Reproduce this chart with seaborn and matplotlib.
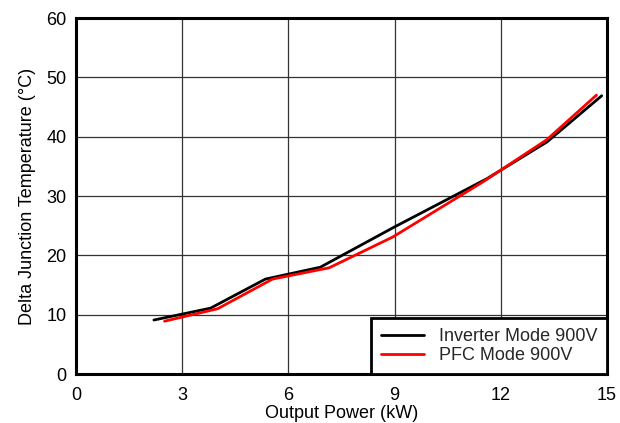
import matplotlib
matplotlib.use("Agg")
import matplotlib.pyplot as plt
import seaborn as sns
import pandas as pd

# Inverter mode operating points
inv_power = [2.2, 3.8, 5.35, 6.9, 9.0, 11.6, 13.3, 14.85]
inv_temp = [9.1, 11.1, 16.0, 18.0, 24.8, 32.9, 39.1, 46.9]

# PFC mode operating points
pfc_power = [2.5, 4.0, 5.55, 7.15, 8.95, 11.5, 13.3, 14.7]
pfc_temp = [8.9, 11.0, 16.0, 17.9, 23.1, 32.4, 39.5, 47.0]

series_names = ["Inverter Mode 900V", "PFC Mode 900V"]
x_ticks = [0, 3, 6, 9, 12, 15]
y_ticks = [0, 10, 20, 30, 40, 50, 60]

df = pd.concat([
    pd.DataFrame({"power": inv_power, "temp": inv_temp, "mode": series_names[0]}),
    pd.DataFrame({"power": pfc_power, "temp": pfc_temp, "mode": series_names[1]}),
])

sns.set_theme(style="white")
plt.rcParams["font.family"] = ["Liberation Sans", "DejaVu Sans"]

fig = plt.figure(figsize=(6.2, 4.23), dpi=100)
ax = fig.add_axes([0.1226, 0.1158, 0.8565, 0.8416])

sns.lineplot(data=df, x="power", y="temp", hue="mode",
             palette={series_names[0]: "black", series_names[1]: "#ff0000"},
             linewidth=2, ax=ax, sort=False)

ax.set_xlim(0, 15)
ax.set_ylim(0, 60)
ax.set_xticks(x_ticks)
ax.set_yticks(y_ticks)
ax.tick_params(axis="x", labelsize=13, length=0, pad=9, colors="black")
ax.tick_params(axis="y", labelsize=13, length=0, pad=7, colors="black")
ax.grid(True, color="#333333", linewidth=0.9)
ax.set_axisbelow(True)
for s in ax.spines.values():
    s.set_color("black")
    s.set_linewidth(2.2)

ax.set_xlabel("Output Power (kW)", fontsize=13, labelpad=1, color="black")
ax.set_ylabel("Delta Junction Temperature (\u00b0C)", fontsize=13, labelpad=7, color="black")

leg = ax.legend(loc="lower right", bbox_to_anchor=(1.0, 0.0), borderaxespad=0,
                fontsize=13, frameon=True, fancybox=False, handlelength=2.4,
                borderpad=0.55, labelspacing=0.1, handletextpad=0.8)
leg.get_frame().set_edgecolor("black")
leg.get_frame().set_linewidth(2)
leg.get_frame().set_alpha(1)
leg.set_title(None)

fig.savefig("out.png", dpi=100)
